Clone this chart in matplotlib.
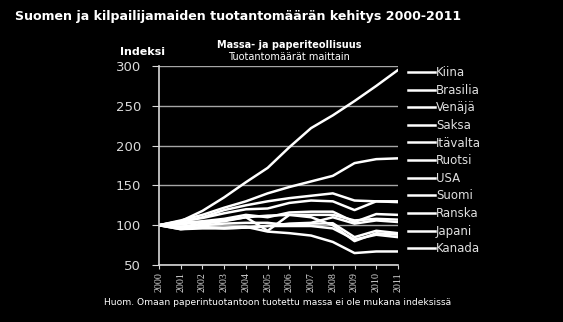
import numpy as np
import matplotlib
matplotlib.use("Agg")
import matplotlib.pyplot as plt

years = list(range(2000, 2012))
countries = ["Kiina", "Brasilia", "Venäjä", "Saksa", "Itävalta", "Ruotsi",
             "USA", "Suomi", "Ranska", "Japani", "Kanada"]

kiina = [100, 105, 118, 135, 154, 172, 198, 222, 238, 256, 275, 295]
brasilia = [100, 106, 113, 122, 130, 140, 148, 155, 162, 178, 183, 184]
venaja = [100, 104, 110, 119, 125, 130, 134, 137, 140, 131, 130, 130]
saksa = [100, 105, 109, 115, 120, 121, 128, 131, 130, 119, 130, 129]
itavalta = [100, 103, 105, 108, 113, 110, 116, 117, 117, 104, 114, 113]
ruotsi = [100, 101, 104, 106, 110, 112, 113, 113, 113, 106, 108, 107]
usa = [100, 95, 98, 96, 97, 99, 102, 103, 110, 102, 106, 104]
suomi = [100, 98, 102, 105, 110, 93, 113, 110, 100, 80, 90, 88]
ranska = [100, 98, 100, 102, 103, 103, 100, 102, 102.5, 85, 93, 90]
japani = [100, 95, 96, 96, 97, 99, 99, 99, 96, 82, 88, 85]
kanada = [100, 96, 97, 97, 98, 92, 90, 87, 79, 65, 67, 67]

series = [kiina, brasilia, venaja, saksa, itavalta, ruotsi,
          usa, suomi, ranska, japani, kanada]

fig = plt.figure(figsize=(5.63, 3.22), dpi=100, facecolor="black")
ax = fig.add_axes([0.2824, 0.177, 0.4245, 0.618])
ax.set_facecolor("black")

for vals, name in zip(series, countries):
    ax.plot(years, vals, color="white", lw=1.8, label=name, solid_joinstyle="round")

ax.set_xlim(2000, 2011)
ax.set_ylim(50, 300)
ax.set_yticks(range(50, 301, 50))
ax.set_xticks(years)
ax.set_xticklabels([str(y) for y in years], rotation=90, fontsize=7.2,
                   family="Liberation Serif", color="#d9d9d9")
ax.tick_params(axis="y", labelsize=9.5, labelcolor="#d9d9d9", length=5,
               color="#d9d9d9", pad=8)
ax.tick_params(axis="x", length=3, color="#d9d9d9", pad=2)
ax.grid(axis="y", color="#a6a6a6", lw=1)
ax.set_axisbelow(True)
for s in ["top", "right"]:
    ax.spines[s].set_visible(False)
for s in ["left", "bottom"]:
    ax.spines[s].set_color("#d9d9d9")
    ax.spines[s].set_linewidth(1.2)

leg = ax.legend(loc="upper left", bbox_to_anchor=(1.035, 1.005), frameon=False,
                fontsize=8.5, labelspacing=0.39, handlelength=2.3, handletextpad=0.1,
                borderpad=0.1, borderaxespad=0)
for t in leg.get_texts():
    t.set_color("#e0e0e0")

fig.text(0.026, 0.95, "Suomen ja kilpailijamaiden tuotantomäärän kehitys 2000-2011",
         color="white", fontsize=9.1, fontweight="bold", va="center")
fig.text(0.513, 0.86, "Massa- ja paperiteollisuus", color="white", fontsize=7,
         fontweight="bold", ha="center", va="center")
fig.text(0.513, 0.822, "Tuotantomäärät maittain", color="white", fontsize=7,
         ha="center", va="center")
fig.text(0.253, 0.838, "Indeksi", color="white", fontsize=8, fontweight="bold",
         ha="center", va="center")
fig.text(0.185, 0.062, "Huom. Omaan paperintuotantoon tuotettu massa ei ole mukana indeksissä",
         color="white", fontsize=6.6, va="center")

fig.savefig("out.png", dpi=100, facecolor="black")
